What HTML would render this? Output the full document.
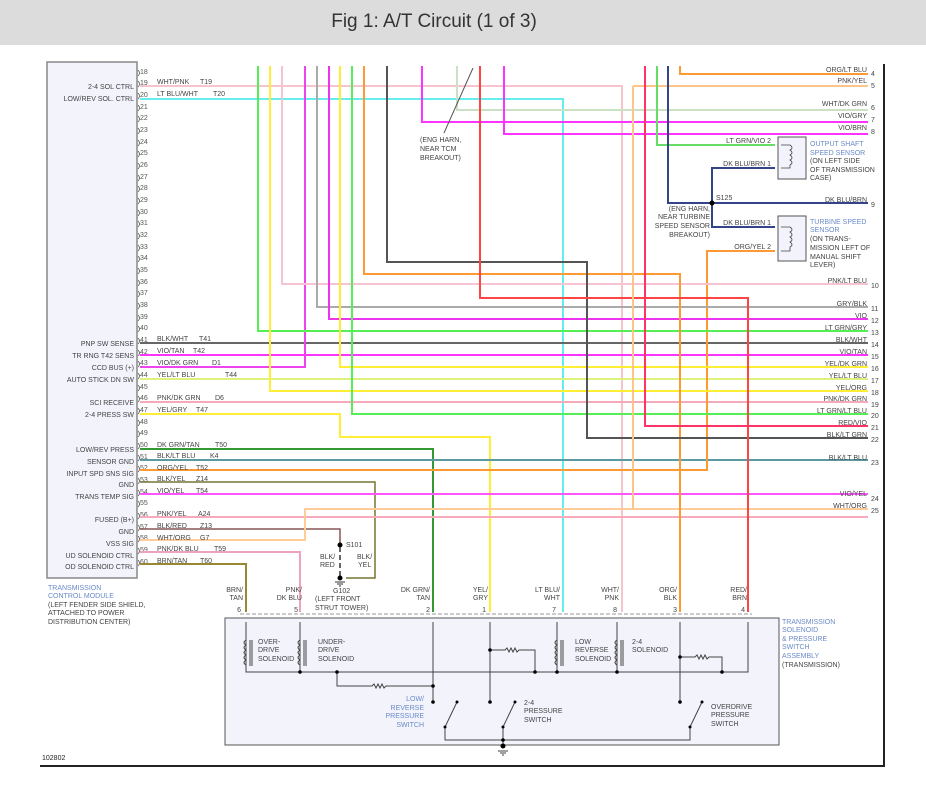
<!DOCTYPE html>
<html><head><meta charset="utf-8"><style>
html,body{margin:0;padding:0;background:#fff;}
svg{display:block;font-family:"Liberation Sans",sans-serif;}
</style></head><body>
<svg width="926" height="788" viewBox="0 0 926 788" xmlns="http://www.w3.org/2000/svg">
<rect x="0" y="0" width="926" height="45" fill="#dcdcdc"/>
<text x="434" y="27" font-size="19" fill="#333" text-anchor="middle">Fig 1: A/T Circuit (1 of 3)</text>

<!-- frame -->
<line x1="884" y1="64" x2="884" y2="766" stroke="#222" stroke-width="2"/>
<line x1="40" y1="766" x2="885" y2="766" stroke="#222" stroke-width="2"/>
<text x="42" y="760" font-size="7" fill="#222">102802</text>

<!-- TCM box -->
<rect x="47" y="62" width="90" height="516" fill="#f3f3fc" stroke="#888" stroke-width="1.5"/>
<g font-size="7" fill="#444" text-anchor="end">
<text x="134" y="89">2-4 SOL CTRL</text>
<text x="134" y="101">LOW/REV SOL. CTRL</text>
<text x="134" y="346">PNP SW SENSE</text>
<text x="134" y="358">TR RNG T42 SENS</text>
<text x="134" y="370">CCD BUS (+)</text>
<text x="134" y="382">AUTO STICK DN SW</text>
<text x="134" y="405">SCI RECEIVE</text>
<text x="134" y="417">2-4 PRESS SW</text>
<text x="134" y="452">LOW/REV PRESS</text>
<text x="134" y="464">SENSOR GND</text>
<text x="134" y="476">INPUT SPD SNS SIG</text>
<text x="134" y="487">GND</text>
<text x="134" y="499">TRANS TEMP SIG</text>
<text x="134" y="522">FUSED (B+)</text>
<text x="134" y="534">GND</text>
<text x="134" y="546">VSS SIG</text>
<text x="134" y="558">UD SOLENOID CTRL</text>
<text x="134" y="569">OD SOLENOID CTRL</text>
</g>
<g font-size="7" fill="#6a8ac8">
<text x="48" y="590">TRANSMISSION</text>
<text x="48" y="598">CONTROL MODULE</text>
</g>
<g font-size="7" fill="#444">
<text x="48" y="607">(LEFT FENDER SIDE SHIELD,</text>
<text x="48" y="615">ATTACHED TO POWER</text>
<text x="48" y="624">DISTRIBUTION CENTER)</text>
</g>

<!-- pin numbers & connector marks -->
<g font-size="7" fill="#555" id="pins">
<text x="140" y="74">18</text><text x="140" y="85">19</text><text x="140" y="97">20</text><text x="140" y="109">21</text><text x="140" y="120">22</text><text x="140" y="132">23</text><text x="140" y="144">24</text><text x="140" y="155">25</text><text x="140" y="167">26</text><text x="140" y="179">27</text><text x="140" y="190">28</text><text x="140" y="202">29</text><text x="140" y="214">30</text><text x="140" y="225">31</text><text x="140" y="237">32</text><text x="140" y="249">33</text><text x="140" y="260">34</text><text x="140" y="272">35</text><text x="140" y="284">36</text><text x="140" y="295">37</text><text x="140" y="307">38</text><text x="140" y="319">39</text><text x="140" y="330">40</text><text x="140" y="342">41</text><text x="140" y="354">42</text><text x="140" y="365">43</text><text x="140" y="377">44</text><text x="140" y="389">45</text><text x="140" y="400">46</text><text x="140" y="412">47</text><text x="140" y="424">48</text><text x="140" y="435">49</text><text x="140" y="447">50</text><text x="140" y="459">51</text><text x="140" y="470">52</text><text x="140" y="482">53</text><text x="140" y="494">54</text><text x="140" y="505">55</text><text x="140" y="517">56</text><text x="140" y="529">57</text><text x="140" y="540">58</text><text x="140" y="552">59</text><text x="140" y="564">60</text>
</g>
<path d="M138 70 q3 3 0 6 M138 81 q3 3 0 6 M138 93 q3 3 0 6 M138 105 q3 3 0 6 M138 116 q3 3 0 6 M138 128 q3 3 0 6 M138 140 q3 3 0 6 M138 151 q3 3 0 6 M138 163 q3 3 0 6 M138 175 q3 3 0 6 M138 186 q3 3 0 6 M138 198 q3 3 0 6 M138 210 q3 3 0 6 M138 221 q3 3 0 6 M138 233 q3 3 0 6 M138 245 q3 3 0 6 M138 256 q3 3 0 6 M138 268 q3 3 0 6 M138 280 q3 3 0 6 M138 291 q3 3 0 6 M138 303 q3 3 0 6 M138 315 q3 3 0 6 M138 326 q3 3 0 6 M138 338 q3 3 0 6 M138 350 q3 3 0 6 M138 361 q3 3 0 6 M138 373 q3 3 0 6 M138 385 q3 3 0 6 M138 396 q3 3 0 6 M138 408 q3 3 0 6 M138 420 q3 3 0 6 M138 431 q3 3 0 6 M138 443 q3 3 0 6 M138 455 q3 3 0 6 M138 466 q3 3 0 6 M138 478 q3 3 0 6 M138 490 q3 3 0 6 M138 501 q3 3 0 6 M138 513 q3 3 0 6 M138 525 q3 3 0 6 M138 536 q3 3 0 6 M138 548 q3 3 0 6 M138 560 q3 3 0 6" fill="none" stroke="#555" stroke-width="0.8"/>

<!-- wires -->
<g fill="none" stroke-width="2">
<!-- TCM pin wires -->
<polyline points="140,86 622,86 622,612" stroke="#f6c4cc"/>
<polyline points="140,99 563,99 563,612" stroke="#66eeee"/>
<polyline points="140,343 868,343" stroke="#666"/>
<polyline points="140,355 868,355" stroke="#ff33ff"/>
<polyline points="140,367 305,367 305,66" stroke="#ee44ee"/>
<polyline points="140,379 868,379" stroke="#ddf27a"/>
<polyline points="140,402 868,402" stroke="#f5aab8"/>
<polyline points="140,414 340,414 340,437 490,437 490,612" stroke="#ffee33"/>
<polyline points="140,449 433,449 433,612" stroke="#339933"/>
<polyline points="140,460 868,460" stroke="#5a9aa0"/>
<polyline points="140,470 707,470 707,251 775,251" stroke="#ff9933"/>
<polyline points="140,482 375,482 375,578 346,578" stroke="#777733" stroke-width="1.5"/>
<polyline points="140,494 868,494" stroke="#ff55ff"/>
<polyline points="140,517 868,517" stroke="#f6aabb"/>
<polyline points="140,529 340,529 340,545" stroke="#885555" stroke-width="1.5"/>
<polyline points="140,540 305,540 305,509 868,509" stroke="#ffcc99"/>
<polyline points="140,552 300,552 300,612" stroke="#f0a0c0"/>
<polyline points="140,564 246,564 246,612" stroke="#998833"/>
<!-- verticals from top -->
<polyline points="258,66 258,331 868,331" stroke="#55ee55"/>
<polyline points="270,66 270,391 868,391" stroke="#ffee33"/>
<polyline points="282,66 282,284 868,284" stroke="#f6c4d0"/>
<polyline points="317,66 317,307 868,307" stroke="#aaaaaa"/>
<polyline points="329,66 329,319 868,319" stroke="#ee33ee"/>
<polyline points="340,66 340,367 868,367" stroke="#ffee33"/>
<polyline points="352,66 352,414 868,414" stroke="#55ee55"/>
<polyline points="364,66 364,274 680,274 680,612" stroke="#ff9933"/>
<polyline points="387,66 387,262 587,262 587,438 868,438" stroke="#555"/>
<polyline points="422,66 422,122 868,122" stroke="#ff33ff"/>
<polyline points="457,66 457,110 868,110" stroke="#cce0c4"/>
<polyline points="480,66 480,298 748,298 748,612" stroke="#ff4444"/>
<polyline points="504,66 504,134 868,134" stroke="#ff33ff"/>
<polyline points="633,86 633,509" stroke="#ffc48a"/>
<polyline points="633,86 868,86" stroke="#ffc48a"/>
<polyline points="645,66 645,426 868,426" stroke="#ff3366"/>
<polyline points="657,66 657,145 775,145" stroke="#66dd66"/>
<polyline points="668,66 668,203 868,203" stroke="#334488"/>
<polyline points="680,66 680,74 868,74" stroke="#ff9933"/>
<polyline points="775,168 712,168 712,227 775,227" stroke="#334488"/>
</g>
<line x1="473" y1="68" x2="444" y2="133" stroke="#555" stroke-width="1"/>
<circle cx="712" cy="203" r="2.5" fill="#000"/>
<g font-size="7" fill="#444">
<text x="420" y="142">(ENG HARN,</text>
<text x="420" y="151">NEAR TCM</text>
<text x="420" y="160">BREAKOUT)</text>
<text x="716" y="200">S125</text>
<text x="710" y="211" text-anchor="end">(ENG HARN,</text>
<text x="710" y="219" text-anchor="end">NEAR TURBINE</text>
<text x="710" y="228" text-anchor="end">SPEED SENSOR</text>
<text x="710" y="237" text-anchor="end">BREAKOUT)</text>
</g>

<!-- TCM wire labels -->
<g font-size="7" fill="#444">
<text x="157" y="84">WHT/PNK</text><text x="200" y="84">T19</text>
<text x="157" y="96">LT BLU/WHT</text><text x="213" y="96">T20</text>
<text x="157" y="341">BLK/WHT</text><text x="199" y="341">T41</text>
<text x="157" y="353">VIO/TAN</text><text x="193" y="353">T42</text>
<text x="157" y="365">VIO/DK GRN</text><text x="212" y="365">D1</text>
<text x="157" y="377">YEL/LT BLU</text><text x="225" y="377">T44</text>
<text x="157" y="400">PNK/DK GRN</text><text x="215" y="400">D6</text>
<text x="157" y="412">YEL/GRY</text><text x="196" y="412">T47</text>
<text x="157" y="447">DK GRN/TAN</text><text x="215" y="447">T50</text>
<text x="157" y="458">BLK/LT BLU</text><text x="210" y="458">K4</text>
<text x="157" y="470">ORG/YEL</text><text x="196" y="470">T52</text>
<text x="157" y="481">BLK/YEL</text><text x="196" y="481">Z14</text>
<text x="157" y="493">VIO/YEL</text><text x="196" y="493">T54</text>
<text x="157" y="516">PNK/YEL</text><text x="198" y="516">A24</text>
<text x="157" y="528">BLK/RED</text><text x="200" y="528">Z13</text>
<text x="157" y="540">WHT/ORG</text><text x="200" y="540">G7</text>
<text x="157" y="551">PNK/DK BLU</text><text x="214" y="551">T59</text>
<text x="157" y="563">BRN/TAN</text><text x="200" y="563">T60</text>
</g>

<!-- right labels -->
<g font-size="7" fill="#444" text-anchor="end">
<text x="867" y="72">ORG/LT BLU</text><text x="867" y="83">PNK/YEL</text>
<text x="867" y="106">WHT/DK GRN</text><text x="867" y="118">VIO/GRY</text><text x="867" y="130">VIO/BRN</text>
<text x="867" y="202">DK BLU/BRN</text><text x="867" y="283">PNK/LT BLU</text>
<text x="867" y="306">GRY/BLK</text><text x="867" y="318">VIO</text><text x="867" y="330">LT GRN/GRY</text>
<text x="867" y="342">BLK/WHT</text><text x="867" y="354">VIO/TAN</text><text x="867" y="366">YEL/DK GRN</text>
<text x="867" y="378">YEL/LT BLU</text><text x="867" y="390">YEL/ORG</text><text x="867" y="401">PNK/DK GRN</text>
<text x="867" y="413">LT GRN/LT BLU</text><text x="867" y="425">RED/VIO</text><text x="867" y="437">BLK/LT GRN</text>
<text x="867" y="460">BLK/LT BLU</text><text x="867" y="496">VIO/YEL</text><text x="867" y="508">WHT/ORG</text>
<text x="771" y="143">LT GRN/VIO 2</text><text x="771" y="166">DK BLU/BRN 1</text>
<text x="771" y="225">DK BLU/BRN 1</text><text x="771" y="249">ORG/YEL 2</text>
</g>
<g font-size="7" fill="#444">
<text x="871" y="76">4</text><text x="871" y="88">5</text><text x="871" y="110">6</text><text x="871" y="122">7</text><text x="871" y="134">8</text>
<text x="871" y="207">9</text><text x="871" y="288">10</text><text x="871" y="311">11</text><text x="871" y="323">12</text>
<text x="871" y="335">13</text><text x="871" y="347">14</text><text x="871" y="359">15</text><text x="871" y="371">16</text>
<text x="871" y="383">17</text><text x="871" y="395">18</text><text x="871" y="407">19</text><text x="871" y="418">20</text>
<text x="871" y="430">21</text><text x="871" y="442">22</text><text x="871" y="465">23</text><text x="871" y="501">24</text><text x="871" y="513">25</text>
</g>

<!-- sensors -->
<rect x="778" y="137" width="28" height="42" fill="#f3f3fc" stroke="#555"/>
<rect x="778" y="216" width="28" height="45" fill="#f3f3fc" stroke="#555"/>
<path d="M781 145 h9 q4 3 0 5 q4 3 0 5 q4 3 0 5 q4 3 0 5 v3 h-9 M781 227 h9 q4 3 0 5 q4 3 0 5 q4 3 0 5 q4 3 0 5 v4 h-9" fill="none" stroke="#444" stroke-width="0.8"/>
<g font-size="7" fill="#6a8ac8"><text x="810" y="146">OUTPUT SHAFT</text><text x="810" y="155">SPEED SENSOR</text>
<text x="810" y="224">TURBINE SPEED</text><text x="810" y="232">SENSOR</text></g>
<g font-size="7" fill="#444"><text x="810" y="163">(ON LEFT SIDE</text><text x="810" y="172">OF TRANSMISSION</text><text x="810" y="180">CASE)</text>
<text x="810" y="241">(ON TRANS-</text><text x="810" y="250">MISSION LEFT OF</text><text x="810" y="259">MANUAL SHIFT</text><text x="810" y="267">LEVER)</text></g>

<!-- S101 / G102 -->
<circle cx="340" cy="545" r="2.5" fill="#000"/>
<line x1="340" y1="547" x2="340" y2="577" stroke="#333" stroke-width="1.5" stroke-dasharray="5,3"/>
<circle cx="340" cy="578" r="2.5" fill="#000"/>
<path d="M335 582 h10 M337 584 h6 M339 586 h2" stroke="#333"/>
<g font-size="7" fill="#444">
<text x="346" y="547">S101</text>
<text x="320" y="559">BLK/</text><text x="320" y="567">RED</text>
<text x="357" y="559">BLK/</text><text x="358" y="567">YEL</text>
<text x="333" y="593">G102</text><text x="315" y="601">(LEFT FRONT</text><text x="315" y="610">STRUT TOWER)</text>
</g>

<!-- bottom connector -->
<line x1="240" y1="614" x2="752" y2="614" stroke="#999" stroke-width="1" stroke-dasharray="4,2"/>
<g font-size="7" fill="#444" text-anchor="end">
<text x="243" y="592">BRN/</text><text x="243" y="600">TAN</text><text x="241" y="612">6</text>
<text x="302" y="592">PNK/</text><text x="302" y="600">DK BLU</text><text x="298" y="612">5</text>
<text x="430" y="592">DK GRN/</text><text x="430" y="600">TAN</text><text x="430" y="612">2</text>
<text x="488" y="592">YEL/</text><text x="488" y="600">GRY</text><text x="486" y="612">1</text>
<text x="560" y="592">LT BLU/</text><text x="560" y="600">WHT</text><text x="556" y="612">7</text>
<text x="619" y="592">WHT/</text><text x="619" y="600">PNK</text><text x="617" y="612">8</text>
<text x="677" y="592">ORG/</text><text x="677" y="600">BLK</text><text x="677" y="612">3</text>
<text x="747" y="592">RED/</text><text x="747" y="600">BRN</text><text x="745" y="612">4</text>
</g>
<rect x="225" y="618" width="554" height="127" fill="#f3f3fc" stroke="#555"/>
<g font-size="7" fill="#6a8ac8"><text x="782" y="624">TRANSMISSION</text><text x="782" y="632">SOLENOID</text><text x="782" y="641">&amp; PRESSURE</text><text x="782" y="649">SWITCH</text><text x="782" y="658">ASSEMBLY</text>
<text x="424" y="701" text-anchor="end">LOW/</text><text x="424" y="710" text-anchor="end">REVERSE</text><text x="424" y="718" text-anchor="end">PRESSURE</text><text x="424" y="727" text-anchor="end">SWITCH</text></g>
<g font-size="7" fill="#444"><text x="782" y="667">(TRANSMISSION)</text>
<text x="258" y="644">OVER-</text><text x="258" y="652">DRIVE</text><text x="258" y="661">SOLENOID</text>
<text x="318" y="644">UNDER-</text><text x="318" y="652">DRIVE</text><text x="318" y="661">SOLENOID</text>
<text x="575" y="644">LOW</text><text x="575" y="652">REVERSE</text><text x="575" y="661">SOLENOID</text>
<text x="632" y="644">2-4</text><text x="632" y="652">SOLENOID</text>
<text x="524" y="705">2-4</text><text x="524" y="713">PRESSURE</text><text x="524" y="722">SWITCH</text>
<text x="711" y="709">OVERDRIVE</text><text x="711" y="717">PRESSURE</text><text x="711" y="726">SWITCH</text>
</g>
<g fill="none" stroke="#444" stroke-width="1">
<path d="M246 622 V672 H748 V622"/>
<path d="M300 622 V672 M433 622 V702 M490 622 V702 M557 622 V672 M617 622 V672 M680 622 V702"/>
<path d="M337 672 V686 H372 l2 -2 l2 4 l2 -4 l2 4 l2 -4 l2 4 l2 -2 H433"/>
<path d="M490 650 H505 l2 -2 l2 4 l2 -4 l2 4 l2 -4 l2 4 l2 -2 H535 V672"/>
<path d="M680 657 H695 l2 -2 l2 4 l2 -4 l2 4 l2 -4 l2 4 l2 -2 H722 V672"/>
<path d="M445 727 L457 702 M503 727 L515 702 M690 727 L702 702"/>
<path d="M445 727 V740 H690 V727 M503 727 V746"/>
<path d="M498 751 h10 M500 753 h6 M502 755 h2"/>
<path d="M246 640 q-4 2.5 0 5 q-4 2.5 0 5 q-4 2.5 0 5 q-4 2.5 0 5 q-4 2.5 0 5 M250 640 v26 M252 640 v26"/>
<path d="M300 640 q-4 2.5 0 5 q-4 2.5 0 5 q-4 2.5 0 5 q-4 2.5 0 5 q-4 2.5 0 5 M304 640 v26 M306 640 v26"/>
<path d="M557 640 q-4 2.5 0 5 q-4 2.5 0 5 q-4 2.5 0 5 q-4 2.5 0 5 q-4 2.5 0 5 M561 640 v26 M563 640 v26"/>
<path d="M617 640 q-4 2.5 0 5 q-4 2.5 0 5 q-4 2.5 0 5 q-4 2.5 0 5 q-4 2.5 0 5 M621 640 v26 M623 640 v26"/>
</g>
<g fill="#000">
<circle cx="300" cy="672" r="1.8"/><circle cx="337" cy="672" r="1.8"/><circle cx="433" cy="686" r="1.8"/>
<circle cx="535" cy="672" r="1.8"/><circle cx="557" cy="672" r="1.8"/><circle cx="617" cy="672" r="1.8"/><circle cx="722" cy="672" r="1.8"/>
<circle cx="490" cy="650" r="1.8"/><circle cx="680" cy="657" r="1.8"/>
<circle cx="433" cy="702" r="1.8"/><circle cx="490" cy="702" r="1.8"/><circle cx="680" cy="702" r="1.8"/>
<circle cx="457" cy="702" r="1.5"/><circle cx="515" cy="702" r="1.5"/><circle cx="702" cy="702" r="1.5"/>
<circle cx="445" cy="727" r="1.5"/><circle cx="503" cy="727" r="1.5"/><circle cx="690" cy="727" r="1.5"/>
<circle cx="503" cy="740" r="1.8"/><circle cx="503" cy="746" r="2.5"/>
</g>
</svg>
</body></html>
